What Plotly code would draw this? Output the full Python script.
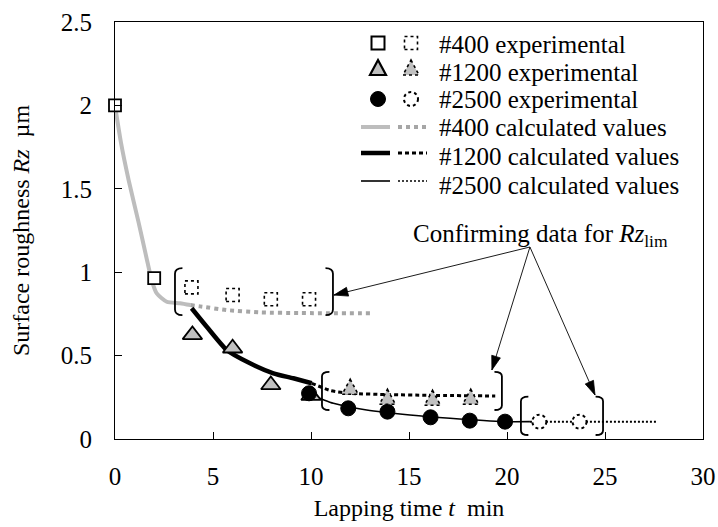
import math
import plotly.graph_objects as go

# ---------------- data ----------------
# #400 experimental (solid squares) and confirming data (dotted squares)
sq400_t = [0, 2]
sq400_rz = [2.0, 0.965]
sq400c_t = [3.9, 6, 7.95, 9.9]
sq400c_rz = [0.909, 0.863, 0.838, 0.838]

# #1200 experimental (triangles) and confirming data (dotted triangles)
tr1200_t = [3.95, 6, 7.95, 10]
tr1200_rz = [0.624, 0.544, 0.324, 0.26]
tr1200c_t = [12, 13.9, 16.2, 18.15]
tr1200c_rz = [0.304, 0.244, 0.238, 0.244]

# #2500 experimental (circles) and confirming data (dotted circles)
ci2500_t = [9.9, 11.9, 13.9, 16.1, 18.1, 19.9]
ci2500_rz = [0.274, 0.184, 0.164, 0.130, 0.110, 0.104]
ci2500c_t = [21.65, 23.7]
ci2500c_rz = [0.104, 0.104]

# calculated values
c400_t = [0, 0.3, 0.7, 1.2, 1.6, 1.87, 2.13, 2.64, 3.32, 3.85]
c400_rz = [2.0, 1.78, 1.55, 1.3, 1.09, 0.953, 0.873, 0.823, 0.814, 0.803]
c400d_t = [3.85, 4.34, 5.7, 7.4, 9.5, 13.1]
c400d_rz = [0.803, 0.795, 0.773, 0.759, 0.755, 0.754]

c1200_t = [3.91, 4.68, 5.7, 6.89, 8.08, 9.1, 10.04]
c1200_rz = [0.784, 0.673, 0.534, 0.454, 0.394, 0.364, 0.334]
c1200d_t = [10.04, 11.0, 12.0, 14, 16, 19.4]
c1200d_rz = [0.334, 0.29, 0.274, 0.266, 0.262, 0.258]

c2500_t = [9.9, 11.14, 12.84, 15.05, 17.09, 19.9, 21.17]
c2500_rz = [0.27, 0.214, 0.174, 0.144, 0.124, 0.104, 0.104]
c2500d_t = [21.17, 27.7]
c2500d_rz = [0.104, 0.104]

# brackets around confirming data: (t_left, t_right, rz_bottom, rz_top)
bracket_t_left = [3.06, 10.56, 20.71]
bracket_t_right = [11.12, 19.74, 24.9]
bracket_rz_bot = [0.743, 0.174, 0.024]
bracket_rz_top = [1.025, 0.403, 0.254]

# arrows from annotation to brackets
arrow_tip_t = [11.17, 19.23, 24.49]
arrow_tip_rz = [0.863, 0.414, 0.264]
arrow_tail_t = 21.17
arrow_tail_rz = 1.151

x_ticks = [0, 5, 10, 15, 20, 25, 30]
y_ticks = [0, 0.5, 1, 1.5, 2, 2.5]

FONT = "Liberation Serif"
FS = 25
GRAY_LINE = "#bdbdbd"
GRAY_DOT = "#a6a6a6"
TRI_FILL = "#c0c0c0"

# plot-area geometry (pixels)
L, T, PW, PH = 115, 22, 588, 417
X_RANGE = [0, 30]
Y_RANGE = [0, 2.5]
KX = PW / (X_RANGE[1] - X_RANGE[0])
KY = PH / (Y_RANGE[1] - Y_RANGE[0])

fig = go.Figure()

# lines
fig.add_trace(go.Scatter(x=c400_t, y=c400_rz, mode="lines",
                         line=dict(color=GRAY_LINE, width=4, shape="spline", smoothing=0.6)))
fig.add_trace(go.Scatter(x=c400d_t, y=c400d_rz, mode="lines",
                         line=dict(color=GRAY_DOT, width=4, dash="dot", shape="spline", smoothing=0.6)))
fig.add_trace(go.Scatter(x=c1200_t, y=c1200_rz, mode="lines",
                         line=dict(color="black", width=4.5, shape="spline", smoothing=0.6)))
fig.add_trace(go.Scatter(x=c1200d_t, y=c1200d_rz, mode="lines",
                         line=dict(color="black", width=3, dash="4px,3px", shape="spline", smoothing=0.6)))
fig.add_trace(go.Scatter(x=c2500_t, y=c2500_rz, mode="lines",
                         line=dict(color="black", width=1.6, shape="spline", smoothing=0.6)))
fig.add_trace(go.Scatter(x=c2500d_t, y=c2500d_rz, mode="lines",
                         line=dict(color="black", width=2, dash="2px,2px")))

# experimental markers
fig.add_trace(go.Scatter(x=tr1200_t, y=tr1200_rz, mode="markers", cliponaxis=False,
                         marker=dict(symbol="triangle-up", size=17, color=TRI_FILL,
                                     line=dict(color="black", width=1.8))))
fig.add_trace(go.Scatter(x=ci2500_t, y=ci2500_rz, mode="markers", cliponaxis=False,
                         marker=dict(symbol="circle", size=15, color="black",
                                     line=dict(color="black", width=1))))
fig.add_trace(go.Scatter(x=sq400_t, y=sq400_rz, mode="markers", cliponaxis=False,
                         marker=dict(symbol="square", size=12, color="white",
                                     line=dict(color="black", width=1.8))))

shapes = []
# dotted markers (confirming data)
for t, r in zip(sq400c_t, sq400c_rz):
    shapes.append(dict(type="rect", xref="x", yref="y", xsizemode="pixel", ysizemode="pixel",
                       xanchor=t, yanchor=r, x0=-6.5, x1=6.5, y0=-6.5, y1=6.5,
                       line=dict(color="black", width=1.6, dash="dot"), fillcolor="white"))
for t, r in zip(tr1200c_t, tr1200c_rz):
    shapes.append(dict(type="path", xref="x", yref="y", xsizemode="pixel", ysizemode="pixel",
                       xanchor=t, yanchor=r, path="M 0,9 L 8,-6 L -8,-6 Z",
                       line=dict(color="black", width=1.6, dash="dot"), fillcolor=TRI_FILL))
for t, r in zip(ci2500c_t, ci2500c_rz):
    shapes.append(dict(type="circle", xref="x", yref="y", xsizemode="pixel", ysizemode="pixel",
                       xanchor=t, yanchor=r, x0=-7, x1=7, y0=-7, y1=7,
                       line=dict(color="black", width=2, dash="dot"), fillcolor="white"))

# brackets
def bracket(xo, xi, yb, yt):
    h = (yt - yb) * 0.12
    return (f"M {xi},{yt} Q {xo},{yt} {xo},{yt - h} L {xo},{yb + h} "
            f"Q {xo},{yb} {xi},{yb}")

for tl, tr_, yb, yt in zip(bracket_t_left, bracket_t_right, bracket_rz_bot, bracket_rz_top):
    w = 0.38
    shapes.append(dict(type="path", xref="x", yref="y", path=bracket(tl, tl + w, yb, yt),
                       line=dict(color="black", width=1.8)))
    shapes.append(dict(type="path", xref="x", yref="y", path=bracket(tr_, tr_ - w, yb, yt),
                       line=dict(color="black", width=1.8)))

# arrows: thin line + filled narrow head anchored at the tip
HEAD_LEN, HEAD_HALF = 14, 4.5
for tt, tr_ in zip(arrow_tip_t, arrow_tip_rz):
    shapes.append(dict(type="line", xref="x", yref="y", x0=arrow_tail_t, y0=arrow_tail_rz,
                       x1=tt, y1=tr_, line=dict(color="black", width=0.9)))
    dxp = (tt - arrow_tail_t) * KX
    dyp = (tr_ - arrow_tail_rz) * KY  # upward positive
    n = math.hypot(dxp, dyp)
    ux, uy = dxp / n, dyp / n
    bx, by = -ux * HEAD_LEN, -uy * HEAD_LEN
    px_, py_ = -uy * HEAD_HALF, ux * HEAD_HALF
    path = (f"M 0,0 L {bx + px_:.2f},{by + py_:.2f} L {bx - px_:.2f},{by - py_:.2f} Z")
    shapes.append(dict(type="path", xref="x", yref="y", xsizemode="pixel", ysizemode="pixel",
                       xanchor=tt, yanchor=tr_, path=path,
                       line=dict(color="black", width=0.8), fillcolor="black"))

# ---------------- manual legend ----------------
def px(xp):
    return (xp - L) / PW


def py(yp):
    return (T + PH - yp) / PH


leg_rows = [43, 69, 99, 127, 153, 181]
sym_x1, sym_x2 = 378, 411
line_a = (361, 390)
line_b = (398, 427)
text_x = 437

def pshape(kind, xp, yp, **kw):
    d = dict(type=kind, xref="paper", yref="paper", xsizemode="pixel", ysizemode="pixel",
             xanchor=px(xp), yanchor=py(yp))
    d.update(kw)
    return d

shapes.append(pshape("rect", sym_x1, leg_rows[0], x0=-6.5, x1=6.5, y0=-6.5, y1=6.5,
                     line=dict(color="black", width=2), fillcolor="white"))
shapes.append(pshape("rect", sym_x2, leg_rows[0], x0=-6.5, x1=6.5, y0=-6.5, y1=6.5,
                     line=dict(color="black", width=1.6, dash="dot"), fillcolor="white"))
shapes.append(pshape("path", sym_x1, leg_rows[1], path="M 0,9 L 8,-6 L -8,-6 Z",
                     line=dict(color="black", width=2.2), fillcolor=TRI_FILL))
shapes.append(pshape("path", sym_x2, leg_rows[1], path="M 0,9 L 8,-6 L -8,-6 Z",
                     line=dict(color="black", width=1.6, dash="dot"), fillcolor=TRI_FILL))
shapes.append(pshape("circle", sym_x1, leg_rows[2], x0=-7.5, x1=7.5, y0=-7.5, y1=7.5,
                     line=dict(color="black", width=1), fillcolor="black"))
shapes.append(pshape("circle", sym_x2, leg_rows[2], x0=-7, x1=7, y0=-7, y1=7,
                     line=dict(color="black", width=2, dash="dot"), fillcolor="white"))

leg_lines = [
    (leg_rows[3], dict(color=GRAY_LINE, width=4), dict(color=GRAY_DOT, width=4, dash="dot")),
    (leg_rows[4], dict(color="black", width=4.5), dict(color="black", width=3, dash="4px,3px")),
    (leg_rows[5], dict(color="black", width=1.6), dict(color="black", width=1.5, dash="2px,2px")),
]
for yr, la, lb in leg_lines:
    shapes.append(dict(type="line", xref="paper", yref="paper", x0=px(line_a[0]), x1=px(line_a[1]),
                       y0=py(yr), y1=py(yr), line=la))
    shapes.append(dict(type="line", xref="paper", yref="paper", x0=px(line_b[0]), x1=px(line_b[1]),
                       y0=py(yr), y1=py(yr), line=lb))

leg_texts = ["#400 experimental", "#1200 experimental", "#2500 experimental",
             "#400 calculated values", "#1200 calculated values", "#2500 calculated values"]
leg_text_rows = [44, 72, 100, 128, 156, 185]

annotations = []
for txt, yr in zip(leg_texts, leg_text_rows):
    annotations.append(dict(text=txt, xref="paper", yref="paper", x=px(text_x), y=py(yr),
                            xanchor="left", yanchor="middle", showarrow=False,
                            font=dict(family=FONT, size=FS, color="black")))

# confirming data annotation
annotations.append(dict(text="Confirming data for <i>Rz</i><sub>lim</sub>", x=21.73, y=1.223,
                        xref="x", yref="y", showarrow=False, xanchor="center", yanchor="middle",
                        font=dict(family=FONT, size=FS, color="black")))

fig.update_layout(
    width=718, height=527,
    margin=dict(l=L, r=718 - L - PW, t=T, b=527 - T - PH),
    paper_bgcolor="white", plot_bgcolor="white",
    showlegend=False,
    font=dict(family=FONT, size=FS, color="black"),
    shapes=shapes,
    annotations=annotations,
)
fig.update_xaxes(range=X_RANGE, tickvals=x_ticks, ticktext=[str(v) for v in x_ticks],
                 ticks="inside", ticklen=7, tickcolor="black", showgrid=False, zeroline=False,
                 showline=True, linecolor="black", linewidth=1, mirror=True, automargin=False,
                 ticklabelstandoff=15, tickfont=dict(family=FONT, size=FS),
                 title=dict(text="Lapping time <i>t</i>  min", standoff=10,
                            font=dict(family=FONT, size=24)))
fig.update_yaxes(range=Y_RANGE, tickvals=y_ticks, ticktext=["0", "0.5", "1", "1.5", "2", "2.5"],
                 ticks="inside", ticklen=7, tickcolor="black", showgrid=False, zeroline=False,
                 showline=True, linecolor="black", linewidth=1, mirror=True, automargin=False,
                 ticklabelstandoff=17, tickfont=dict(family=FONT, size=FS),
                 title=dict(text="Surface roughness <i>Rz</i>  µm", standoff=24,
                            font=dict(family=FONT, size=24)))

fig.write_html("out.html")
